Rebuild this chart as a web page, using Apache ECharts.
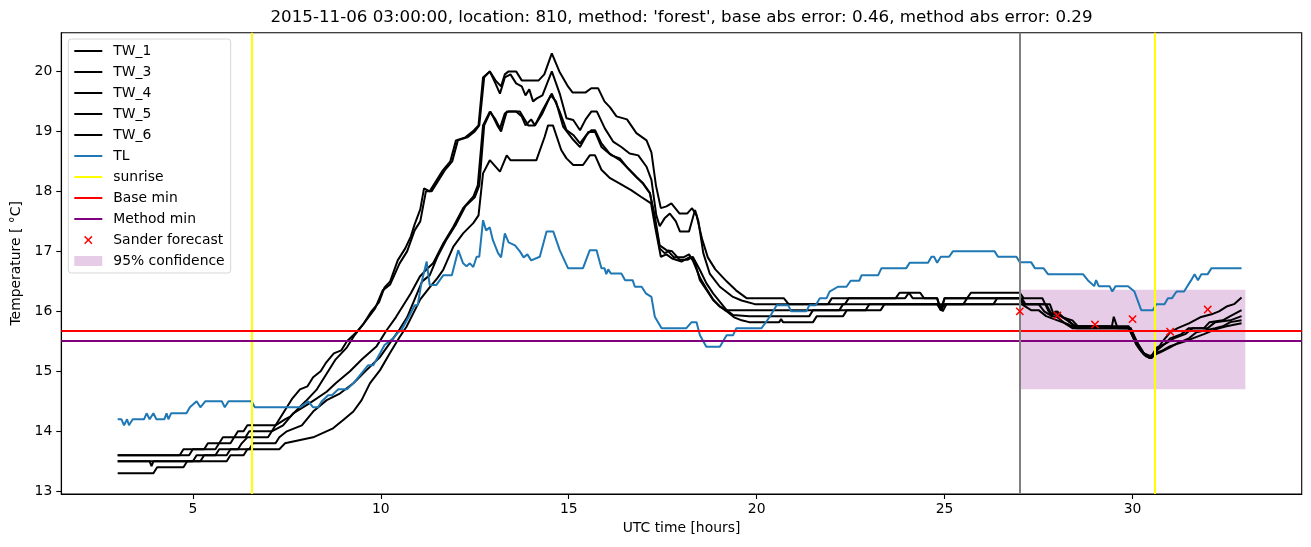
<!DOCTYPE html>
<html>
<head>
<meta charset="utf-8">
<script src="https://cdn.jsdelivr.net/npm/echarts@6/dist/echarts.min.js"></script>
<style>
html,body{margin:0;padding:0;background:#fff;}
#chart{width:1311px;height:547px;}
</style>
</head>
<body>
<div id="chart"></div>
<script>
// ---------------- data ----------------
const titleText = "2015-11-06 03:00:00, location: 810, method: 'forest', base abs error: 0.46, method abs error: 0.29";
const xTicks = [5, 10, 15, 20, 25, 30];
const yTicks = [13, 14, 15, 16, 17, 18, 19, 20];

const tw1 = [[3.0,13.6],[4.65,13.6],[4.75,13.7],[5.3,13.7],[5.4,13.8],[5.7,13.8],[5.8,13.9],[6.1,13.9],[6.2,14.0],[6.35,14.0],[6.45,14.1],[7.2,14.1],[7.3,14.2],[7.5,14.4],[7.65,14.55],[7.85,14.7],[8.05,14.75],[8.2,14.9],[8.4,15.0],[8.55,15.15],[8.75,15.3],[8.95,15.35],[9.1,15.5],[9.35,15.65],[9.55,15.8],[9.75,16.0],[9.95,16.15],[10.1,16.4],[10.25,16.5],[10.45,16.85],[10.65,17.05],[10.8,17.25],[10.9,17.45],[11.05,17.7],[11.15,18.05],[11.3,18.0],[11.5,18.2],[11.65,18.35],[11.85,18.5],[12.0,18.85],[12.25,18.9],[12.45,19.0],[12.6,19.1],[12.72,19.9],[12.9,20.0],[13.05,19.85],[13.2,19.75],[13.3,19.95],[13.4,20.0],[13.6,20.0],[13.75,19.85],[14.2,19.85],[14.35,19.95],[14.55,20.3],[14.75,20.0],[14.98,19.75],[15.1,19.65],[15.45,19.65],[15.6,19.72],[15.78,19.72],[15.95,19.5],[16.1,19.4],[16.27,19.25],[16.55,19.2],[16.8,18.97],[17.07,18.85],[17.2,18.65],[17.32,18.1],[17.45,17.72],[17.6,17.75],[17.73,17.8],[17.95,17.63],[18.15,17.63],[18.28,17.72],[18.4,17.6],[18.55,17.2],[18.7,16.9],[18.9,16.7],[19.2,16.5],[19.45,16.35],[19.73,16.22],[20.72,16.22],[20.85,16.12],[22.35,16.12],[22.45,16.22],[23.7,16.22],[23.8,16.31],[24.05,16.31],[24.15,16.22],[24.8,16.22],[24.9,16.02],[25.0,16.22],[25.6,16.22],[25.7,16.31],[27.0,16.31],[27.1,16.22],[27.6,16.22],[27.75,16.02],[27.85,15.92],[27.95,16.0],[28.1,15.92],[28.3,15.85],[28.45,15.75],[29.9,15.72],[30.1,15.45],[30.3,15.3],[30.45,15.22],[30.6,15.3],[30.8,15.5],[31.0,15.65],[31.2,15.72],[31.5,15.8],[31.8,15.9],[32.1,15.95],[32.3,16.0],[32.5,16.08],[32.7,16.12],[32.9,16.23]];

const tw3 = [[3.0,13.6],[4.9,13.6],[5.0,13.7],[5.6,13.7],[5.7,13.8],[6.0,13.8],[6.1,13.9],[6.4,13.9],[6.5,14.0],[7.1,14.0],[7.2,14.1],[7.45,14.2],[7.6,14.25],[8.0,14.5],[8.3,14.7],[8.55,14.95],[8.8,15.2],[9.1,15.4],[9.3,15.6],[9.55,15.8],[9.85,16.05],[10.05,16.35],[10.25,16.45],[10.5,16.8],[10.7,17.0],[10.9,17.35],[11.05,17.5],[11.2,18.0],[11.35,18.0],[11.55,18.2],[11.7,18.35],[11.9,18.5],[12.05,18.85],[12.3,18.9],[12.5,19.0],[12.62,19.1],[12.75,19.9],[12.9,20.0],[13.05,19.8],[13.17,19.63],[13.3,19.9],[13.45,19.95],[13.6,19.8],[13.75,19.75],[13.85,19.6],[13.95,19.7],[14.05,19.5],[14.15,19.55],[14.3,19.6],[14.55,20.0],[14.76,19.63],[14.94,19.22],[15.12,19.19],[15.3,19.02],[15.45,19.2],[15.6,19.33],[15.75,19.33],[15.96,19.05],[16.18,18.83],[16.4,18.74],[16.62,18.63],[16.85,18.6],[17.07,18.41],[17.2,18.19],[17.33,17.6],[17.42,17.42],[17.55,17.55],[17.69,17.63],[17.85,17.5],[17.96,17.33],[18.2,17.33],[18.36,17.69],[18.45,17.5],[18.58,16.97],[18.75,16.63],[19.02,16.41],[19.37,16.24],[19.6,16.18],[19.95,16.12],[21.9,16.12],[22.0,16.22],[23.95,16.22],[24.05,16.31],[24.35,16.31],[24.45,16.22],[24.8,16.22],[24.9,16.02],[25.0,16.22],[27.05,16.22],[27.15,16.12],[27.7,16.12],[27.85,15.95],[28.0,16.0],[28.15,15.9],[28.4,15.85],[28.55,15.75],[29.45,15.75],[29.5,15.91],[29.6,15.72],[29.95,15.72],[30.15,15.45],[30.35,15.25],[30.5,15.22],[30.65,15.35],[30.85,15.45],[31.0,15.55],[31.3,15.62],[31.5,15.72],[31.9,15.72],[32.05,15.82],[32.4,15.85],[32.6,15.92],[32.9,16.02]];

const tw4 = [[3.0,13.5],[5.0,13.5],[5.1,13.6],[5.6,13.6],[5.7,13.7],[6.2,13.7],[6.3,13.8],[6.45,13.9],[7.0,13.9],[7.1,14.0],[7.4,14.1],[7.67,14.3],[8.11,14.47],[8.56,14.66],[8.8,14.8],[9.18,15.0],[9.5,15.2],[9.89,15.42],[10.15,15.68],[10.4,15.9],[10.6,16.1],[10.8,16.3],[11.04,16.58],[11.22,16.7],[11.39,16.8],[11.66,17.13],[11.93,17.41],[12.19,17.72],[12.46,17.91],[12.58,18.1],[12.72,19.1],[12.9,19.33],[13.05,19.2],[13.17,19.05],[13.3,19.3],[13.4,19.33],[13.7,19.33],[13.92,19.1],[14.1,19.1],[14.3,19.3],[14.52,19.6],[14.66,19.5],[14.85,19.08],[15.12,18.86],[15.3,18.74],[15.52,18.99],[15.7,18.99],[15.87,18.74],[16.14,18.6],[16.36,18.55],[16.58,18.38],[16.8,18.24],[16.98,18.13],[17.16,17.97],[17.29,17.58],[17.42,17.1],[17.6,17.02],[17.75,17.0],[17.95,16.86],[18.17,16.86],[18.3,16.91],[18.49,16.69],[18.66,16.47],[18.84,16.3],[19.06,16.13],[19.2,16.02],[22.2,16.02],[22.3,16.12],[24.8,16.12],[24.9,16.02],[25.0,16.12],[25.5,16.12],[25.6,16.22],[27.0,16.22],[27.1,16.12],[27.8,16.12],[27.9,15.95],[28.1,15.92],[28.3,15.83],[28.5,15.75],[29.9,15.75],[30.1,15.5],[30.3,15.3],[30.5,15.25],[30.65,15.4],[30.9,15.47],[31.1,15.55],[31.4,15.62],[31.6,15.72],[32.0,15.72],[32.2,15.82],[32.6,15.85],[32.9,15.92]];

const tw5 = [[3.0,13.5],[3.85,13.5],[3.9,13.42],[3.95,13.5],[5.2,13.5],[5.3,13.6],[5.9,13.6],[6.0,13.7],[6.5,13.7],[6.6,13.8],[7.2,13.8],[7.3,13.9],[7.5,14.0],[7.9,14.1],[8.2,14.33],[8.56,14.52],[8.91,14.63],[9.27,14.8],[9.62,15.02],[9.98,15.24],[10.33,15.55],[10.5,15.7],[10.7,15.9],[10.9,16.2],[11.1,16.5],[11.3,16.6],[11.5,16.9],[11.75,17.2],[12.0,17.45],[12.25,17.75],[12.5,17.9],[12.62,18.1],[12.75,19.1],[12.92,19.33],[13.1,19.1],[13.2,19.0],[13.35,19.33],[13.6,19.33],[13.75,19.25],[13.85,19.1],[14.0,19.2],[14.1,19.1],[14.3,19.35],[14.55,19.63],[14.76,19.33],[14.94,19.02],[15.12,18.94],[15.3,18.8],[15.47,18.94],[15.6,19.02],[15.7,19.02],[15.87,18.8],[16.09,18.63],[16.36,18.52],[16.58,18.38],[16.8,18.24],[16.98,18.13],[17.16,17.97],[17.3,17.5],[17.42,17.05],[17.55,16.97],[17.65,17.0],[17.8,16.9],[18.05,16.9],[18.2,16.95],[18.3,16.85],[18.5,16.55],[18.66,16.38],[18.84,16.2],[19.02,16.08],[19.2,16.02],[19.37,15.94],[19.8,15.92],[21.4,15.92],[21.5,16.02],[22.9,16.02],[23.0,16.12],[24.85,16.12],[24.95,16.0],[25.05,16.12],[26.3,16.12],[26.4,16.22],[27.0,16.22],[27.1,16.12],[27.5,16.12],[27.65,16.0],[27.85,15.92],[28.0,15.9],[28.2,15.8],[28.4,15.72],[29.95,15.72],[30.15,15.4],[30.3,15.28],[30.5,15.22],[30.6,15.28],[30.75,15.32],[31.0,15.4],[31.2,15.47],[31.5,15.55],[31.7,15.65],[32.2,15.72],[32.4,15.75],[32.6,15.82],[32.9,15.85]];

const tw6 = [[3.0,13.3],[3.95,13.3],[4.05,13.4],[4.75,13.4],[4.85,13.5],[5.9,13.5],[6.0,13.6],[6.35,13.6],[6.45,13.7],[7.3,13.7],[7.45,13.8],[8.2,13.9],[8.73,14.05],[9.0,14.19],[9.27,14.33],[9.49,14.52],[9.71,14.8],[9.98,15.02],[10.24,15.3],[10.51,15.58],[10.68,15.74],[10.85,15.95],[11.05,16.2],[11.3,16.4],[11.5,16.55],[11.66,16.69],[11.93,17.08],[12.19,17.3],[12.46,17.47],[12.6,17.6],[12.72,18.3],[12.9,18.52],[13.17,18.33],[13.35,18.6],[13.45,18.52],[14.14,18.52],[14.36,18.91],[14.45,19.1],[14.58,19.1],[14.8,18.69],[14.94,18.55],[15.12,18.44],[15.38,18.44],[15.56,18.6],[15.7,18.6],[15.87,18.36],[16.1,18.22],[16.36,18.13],[16.66,18.02],[16.92,17.91],[17.19,17.8],[17.3,17.4],[17.45,16.91],[17.6,16.95],[17.75,16.88],[18.0,16.83],[18.23,16.91],[18.35,16.83],[18.49,16.52],[18.66,16.36],[18.84,16.19],[19.02,16.08],[19.2,16.0],[19.4,15.9],[19.6,15.85],[19.8,15.82],[20.6,15.82],[20.65,15.87],[20.7,15.82],[21.5,15.82],[21.6,15.92],[22.3,15.92],[22.4,16.02],[23.3,16.02],[23.4,16.12],[27.05,16.12],[27.3,16.02],[27.5,16.02],[27.7,15.92],[28.0,15.85],[28.3,15.78],[28.5,15.72],[29.9,15.72],[30.1,15.45],[30.25,15.32],[30.45,15.25],[30.6,15.3],[30.8,15.35],[31.0,15.42],[31.4,15.5],[31.6,15.55],[31.9,15.62],[32.2,15.7],[32.5,15.75],[32.9,15.8]];

const tl = [[3.0,14.2],[3.1,14.2],[3.17,14.1],[3.25,14.2],[3.3,14.1],[3.4,14.2],[3.7,14.2],[3.77,14.3],[3.85,14.2],[3.95,14.3],[4.03,14.2],[4.24,14.2],[4.3,14.3],[4.35,14.2],[4.42,14.3],[4.83,14.3],[4.92,14.4],[5.1,14.5],[5.2,14.4],[5.33,14.5],[5.77,14.5],[5.85,14.4],[5.95,14.5],[6.56,14.5],[6.65,14.4],[7.85,14.4],[8.07,14.5],[8.2,14.4],[8.33,14.4],[8.43,14.5],[8.6,14.6],[8.7,14.6],[8.87,14.7],[9.1,14.7],[9.27,14.8],[9.4,14.9],[9.53,15.0],[9.66,15.1],[9.8,15.1],[9.98,15.3],[10.1,15.44],[10.33,15.55],[10.46,15.65],[10.55,15.69],[10.77,15.94],[10.9,16.1],[10.98,16.1],[11.08,16.47],[11.22,16.83],[11.3,16.44],[11.48,16.44],[11.66,16.6],[11.89,16.6],[12.06,17.02],[12.19,16.8],[12.28,16.75],[12.37,16.8],[12.46,16.74],[12.55,16.91],[12.62,16.91],[12.72,17.52],[12.8,17.35],[12.9,17.4],[12.98,17.19],[13.12,16.97],[13.2,16.9],[13.3,17.3],[13.4,17.15],[13.57,17.1],[13.7,17.0],[13.8,16.9],[13.9,16.95],[14.0,16.85],[14.23,16.91],[14.41,17.33],[14.59,17.33],[14.76,17.02],[14.98,16.72],[15.38,16.72],[15.56,17.02],[15.74,17.02],[15.87,16.72],[15.95,16.72],[16.0,16.62],[16.05,16.7],[16.12,16.63],[16.4,16.63],[16.5,16.52],[16.7,16.52],[16.76,16.41],[16.94,16.41],[17.05,16.3],[17.2,16.24],[17.29,15.91],[17.47,15.72],[18.13,15.72],[18.27,15.82],[18.4,15.82],[18.49,15.6],[18.66,15.41],[19.02,15.41],[19.2,15.6],[19.37,15.6],[19.46,15.72],[20.13,15.72],[20.35,15.91],[20.53,16.1],[20.84,16.1],[20.92,16.0],[21.32,16.0],[21.4,16.1],[21.57,16.1],[21.68,16.22],[21.86,16.22],[21.94,16.33],[22.16,16.41],[22.39,16.41],[22.5,16.51],[22.73,16.51],[22.79,16.6],[23.23,16.6],[23.32,16.72],[23.98,16.72],[24.07,16.81],[24.56,16.81],[24.65,16.91],[24.72,16.91],[24.8,16.81],[24.9,16.91],[25.12,16.91],[25.22,17.0],[26.33,17.0],[26.42,16.91],[26.91,16.91],[27.0,16.82],[27.3,16.82],[27.4,16.72],[27.63,16.72],[27.75,16.62],[28.68,16.62],[28.81,16.52],[28.98,16.42],[29.03,16.52],[29.1,16.42],[29.39,16.42],[29.46,16.33],[29.55,16.42],[29.88,16.42],[30.05,16.33],[30.23,16.02],[30.54,16.02],[30.63,16.12],[30.85,16.12],[30.94,16.22],[31.05,16.22],[31.17,16.33],[31.37,16.33],[31.56,16.52],[31.65,16.62],[31.74,16.52],[31.83,16.62],[32.0,16.62],[32.1,16.72],[32.9,16.72]];

const sunriseX = [6.58, 30.6];
const nowX = 27.0;
const baseMin = 15.68;
const methodMin = 15.51;
const sanderX = [27, 28, 29, 30, 31, 32];
const sanderY = [16.0, 15.93, 15.78, 15.87, 15.66, 16.03];
const confX = [27.0, 33.0];
const confY = [14.7, 16.36];

const xRange = [1.5, 34.5];
const yRange = [12.955, 20.645];

// ---------------- chart ----------------
const FONT = "'DejaVu Sans', sans-serif";
const chart = echarts.init(document.getElementById('chart'), null, {renderer: 'canvas'});
// thin "x" marker; the two zero-length subpaths pad the box so the cross is drawn a bit smaller
const xPath = 'path://M-1,-1 L-1,-1 M11,11 L11,11 M0,1.25 L1.25,0 L5,3.75 L8.75,0 L10,1.25 L6.25,5 L10,8.75 L8.75,10 L5,6.25 L1.25,10 L0,8.75 L3.75,5 Z';

const twNames = ['TW_1', 'TW_3', 'TW_4', 'TW_5', 'TW_6'];
const twData = [tw1, tw3, tw4, tw5, tw6];

const series = [];
series.push({
  name: '95% confidence', type: 'custom', z: 1,
  itemStyle: {color: 'rgba(128,0,128,0.2)'},
  encode: {x: [0, 1], y: [2, 3]},
  data: [[confX[0], confX[1], confY[1], confY[0]]],
  renderItem: function (params, api) {
    const p0 = api.coord([api.value(0), api.value(2)]);
    const p1 = api.coord([api.value(1), api.value(3)]);
    return {type: 'rect', shape: {x: p0[0], y: p0[1], width: p1[0] - p0[0], height: p1[1] - p0[1]},
            style: {fill: 'rgba(128,0,128,0.2)'}};
  },
  silent: true
});
twNames.forEach(function (n, i) {
  series.push({name: n, type: 'line', data: twData[i], symbol: 'none', showSymbol: false, z: 2,
    itemStyle: {color: '#000'}, lineStyle: {color: '#000', width: 2}, silent: true});
});
series.push({name: 'TL', type: 'line', data: tl, symbol: 'none', showSymbol: false, z: 3,
  itemStyle: {color: '#1f77b4'}, lineStyle: {color: '#1f77b4', width: 2}, silent: true});
function vline(name, color, marks, isX) {
  return {name: name, type: 'line', data: [], symbol: 'none', z: 4,
    itemStyle: {color: color}, lineStyle: {color: color, width: 2},
    markLine: {silent: true, symbol: ['none', 'none'], label: {show: false}, animation: false,
      lineStyle: {color: color, width: 2, type: 'solid'},
      data: marks.map(function (v) { return isX ? {xAxis: v} : {yAxis: v}; })}};
}
series.push(vline('sunrise', '#ffff00', sunriseX, true));
series.push(vline('Base min', '#ff0000', [baseMin], false));
series.push(vline('Method min', '#800080', [methodMin], false));
series.push(vline('now', '#808080', [nowX], true));
series.push({name: 'Sander forecast', type: 'scatter', z: 5, symbol: xPath, symbolSize: 10,
  itemStyle: {color: '#ff0000', opacity: 1},
  data: sanderX.map(function (x, i) { return [x, sanderY[i]]; }), silent: true});

const lineLegend = function (n) { return {name: n, itemStyle: {opacity: 0}}; };

chart.setOption({
  animation: false,
  backgroundColor: '#fff',
  textStyle: {fontFamily: FONT},
  title: {text: titleText, left: 681.5, textAlign: 'center', top: 9, padding: 0,
    textStyle: {fontFamily: FONT, fontSize: 16.7, fontWeight: 'normal', color: '#000'}},
  grid: {left: 61.3, right: 9.3, top: 32.7, bottom: 53, show: true, borderColor: '#000', borderWidth: 1.1, backgroundColor: 'transparent'},
  legend: {
    orient: 'vertical', left: 68.3, top: 39, padding: [5, 6, 5, 5],
    itemWidth: 28, itemHeight: 10, itemGap: 7,
    backgroundColor: 'rgba(255,255,255,0.8)', borderColor: '#d6d6d6', borderWidth: 1, borderRadius: 3,
    textStyle: {fontFamily: FONT, fontSize: 13.9, color: '#000', lineHeight: 14, padding: [0, 0, 0, 6]},
    selectedMode: false,
    data: twNames.map(lineLegend).concat([
      lineLegend('TL'), lineLegend('sunrise'), lineLegend('Base min'), lineLegend('Method min'),
      {name: 'Sander forecast', icon: xPath},
      {name: '95% confidence', icon: 'rect'}
    ])
  },
  xAxis: {
    type: 'value', min: xRange[0], max: xRange[1],
    name: 'UTC time [hours]', nameLocation: 'middle', nameGap: 27,
    nameTextStyle: {fontFamily: FONT, fontSize: 13.9, color: '#000'},
    axisLine: {show: true, onZero: false, lineStyle: {color: '#000', width: 1.1}},
    axisTick: {show: true, inside: false, length: 5, lineStyle: {color: '#000', width: 1.1}, customValues: xTicks},
    axisLabel: {show: true, margin: 8, fontFamily: FONT, fontSize: 13.9, color: '#000', customValues: xTicks},
    splitLine: {show: false}
  },
  yAxis: {
    type: 'value', min: yRange[0], max: yRange[1],
    name: 'Temperature [ °C]', nameLocation: 'middle', nameGap: 36, nameRotate: 90,
    nameTextStyle: {fontFamily: FONT, fontSize: 13.9, color: '#000'},
    axisLine: {show: true, onZero: false, lineStyle: {color: '#000', width: 1.1}},
    axisTick: {show: true, inside: false, length: 5, lineStyle: {color: '#000', width: 1.1}, customValues: yTicks},
    axisLabel: {show: true, margin: 9, fontFamily: FONT, fontSize: 13.9, color: '#000', customValues: yTicks},
    splitLine: {show: false}
  },
  series: series
});
</script>
</body>
</html>
